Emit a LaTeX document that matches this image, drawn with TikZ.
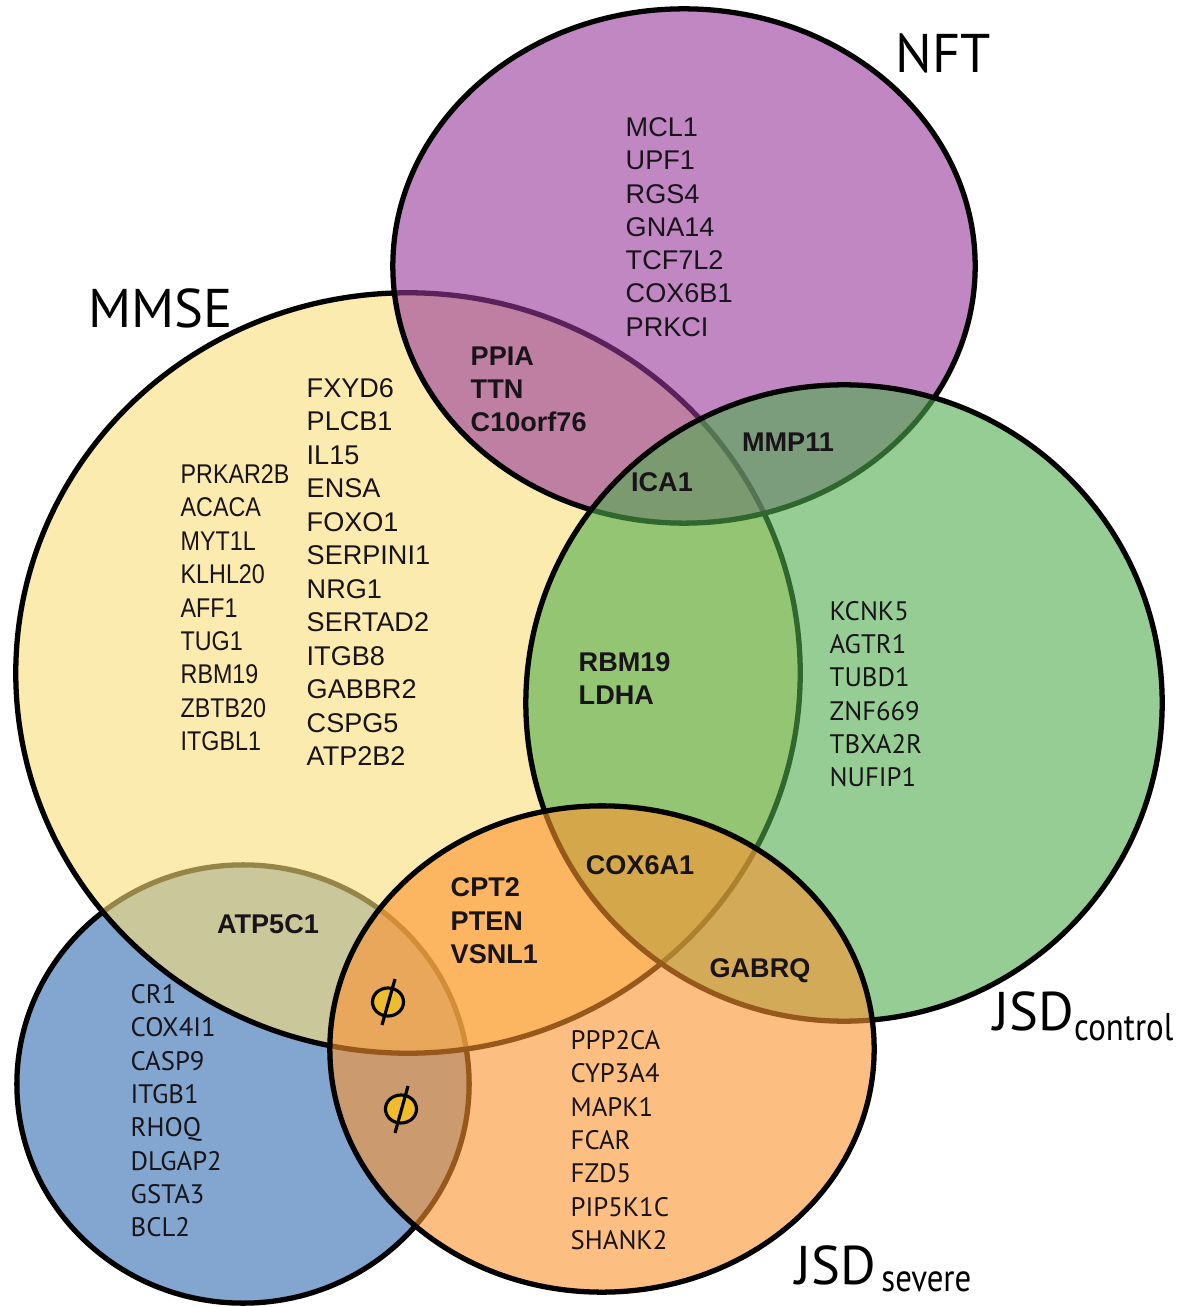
\documentclass[tikz,border=0pt]{standalone}
\usepackage{fontspec}
\setmainfont{Liberation Sans}
\newfontfamily\myr{PT Sans}
\newfontfamily\myrn[FakeStretch=0.85]{PT Sans}
\newfontfamily\narrowsans[FakeStretch=0.86]{Liberation Sans}
\definecolor{cyel}{RGB}{250,222,120}
\definecolor{cpur}{RGB}{150,55,155}
\definecolor{cgrn}{RGB}{80,172,77}
\definecolor{cora}{RGB}{253,147,47}
\definecolor{cblu}{RGB}{47,107,177}
\definecolor{cgold}{RGB}{238,188,45}
\definecolor{txt}{RGB}{25,20,25}
\begin{document}
\begin{tikzpicture}[x=0.01cm,y=-0.01cm,
  venn/.style={draw=black, line width=1.5pt, fill opacity=0.6},
  gA/.style={font=\fontsize{7.7}{9}\selectfont, anchor=base west, inner sep=0pt, text=txt},
  gN/.style={font=\narrowsans\fontsize{7.7}{9}\selectfont, anchor=base west, inner sep=0pt, text=txt},
  gB/.style={font=\fontsize{7.7}{9}\selectfont\bfseries, anchor=base west, inner sep=0pt, text=txt},
  gC/.style={gB, anchor=base},
  gM/.style={font=\myr\fontsize{7.6}{9}\selectfont, anchor=base west, inner sep=0pt, text=txt},
  ttl/.style={font=\myr\fontsize{15.5}{16}\selectfont, anchor=base west, inner sep=0pt, text=black},
  emptyset/.style={line width=0.9pt, draw=black}]
\useasboundingbox (0,0) rectangle (1180,1307);
\fill[white] (0,0) rectangle (1180,1307);
% sets (drawing order matters for the dimmed outlines)
\draw[venn, fill=cblu] (243,1084) ellipse [x radius=2.26cm, y radius=2.19cm];
\draw[venn, fill=cyel] (408,673) ellipse [x radius=3.92cm, y radius=3.80cm];
\draw[venn, fill=cpur] (684,266) ellipse [x radius=2.91cm, y radius=2.57cm];
\draw[venn, fill=cgrn] (844,703) ellipse [x radius=3.18cm, y radius=3.18cm];
\draw[venn, fill=cora] (602,1049) ellipse [x radius=2.72cm, y radius=2.43cm];
% titles
\node[ttl] (tmmse) at (88,328) {MMSE};
\node[ttl] (tnft) at (895,73) {NFT};
\node[ttl] (tjsdc) at (993,1030) {JSD\raisebox{-3pt}{\myrn\fontsize{11}{12}\selectfont control}};
\node[ttl] (tjsds) at (795,1284) {JSD\kern1.5pt\raisebox{-2pt}{\myrn\fontsize{11}{12}\selectfont severe}};
% NFT only
\foreach \t [count=\i from 0] in {MCL1,UPF1,RGS4,GNA14,TCF7L2,COX6B1,PRKCI}
  \node[gA] (nft\i) at (625,{136.5+33.3*\i}) {\t};
% MMSE and NFT
\foreach \t [count=\i from 0] in {PPIA,TTN,C10orf76}
  \node[gB] (mn\i) at (470,{365.5+33*\i}) {\t};
\node[gC] (mmp) at (788,451.5) {MMP11};
\node[gC] (ica) at (662,491.5) {ICA1};
% MMSE only
\foreach \t [count=\i from 0] in {PRKAR2B,ACACA,MYT1L,KLHL20,AFF1,TUG1,RBM19,ZBTB20,ITGBL1}
  \node[gN] (ma\i) at (180,{483.5+33.4*\i}) {\t};
\foreach \t [count=\i from 0] in {FXYD6,PLCB1,IL15,ENSA,FOXO1,SERPINI1,NRG1,SERTAD2,ITGB8,GABBR2,CSPG5,ATP2B2}
  \node[gA] (mb\i) at (306,{397.5+33.45*\i}) {\t};
% MMSE and JSD control
\foreach \t [count=\i from 0] in {RBM19,LDHA}
  \node[gB] (mc\i) at (578,{671.5+33*\i}) {\t};
% JSD control only
\foreach \t [count=\i from 0] in {KCNK5,AGTR1,TUBD1,ZNF669,TBXA2R,NUFIP1}
  \node[gM] (jc\i) at (829,{620.5+33.2*\i}) {\t};
% other intersections
\node[gC] (cox) at (640,874.5) {COX6A1};
\foreach \t [count=\i from 0] in {CPT2,PTEN,VSNL1}
  \node[gB] (ms\i) at (450,{896.5+33.5*\i}) {\t};
\node[gC] (gab) at (760,977.5) {GABRQ};
\node[gC] (atp) at (268,933.5) {ATP5C1};
% blue only
\foreach \t [count=\i from 0] in {CR1,COX4I1,CASP9,ITGB1,RHOQ,DLGAP2,GSTA3,BCL2}
  \node[gM] (bl\i) at (130,{1003.5+33.3*\i}) {\t};
% JSD severe only
\foreach \t [count=\i from 0] in {PPP2CA,CYP3A4,MAPK1,FCAR,FZD5,PIP5K1C,SHANK2}
  \node[gM] (js\i) at (570,{1049.5+33.3*\i}) {\t};
% empty sets
\draw[emptyset, fill=cgold] (388,1002) ellipse [x radius=0.155cm, y radius=0.14cm];
\draw[emptyset] (382,1025) -- (395,979);
\draw[emptyset, fill=cgold] (401,1109) ellipse [x radius=0.155cm, y radius=0.14cm];
\draw[emptyset] (395,1133) -- (408,1086);
\end{tikzpicture}
\end{document}
